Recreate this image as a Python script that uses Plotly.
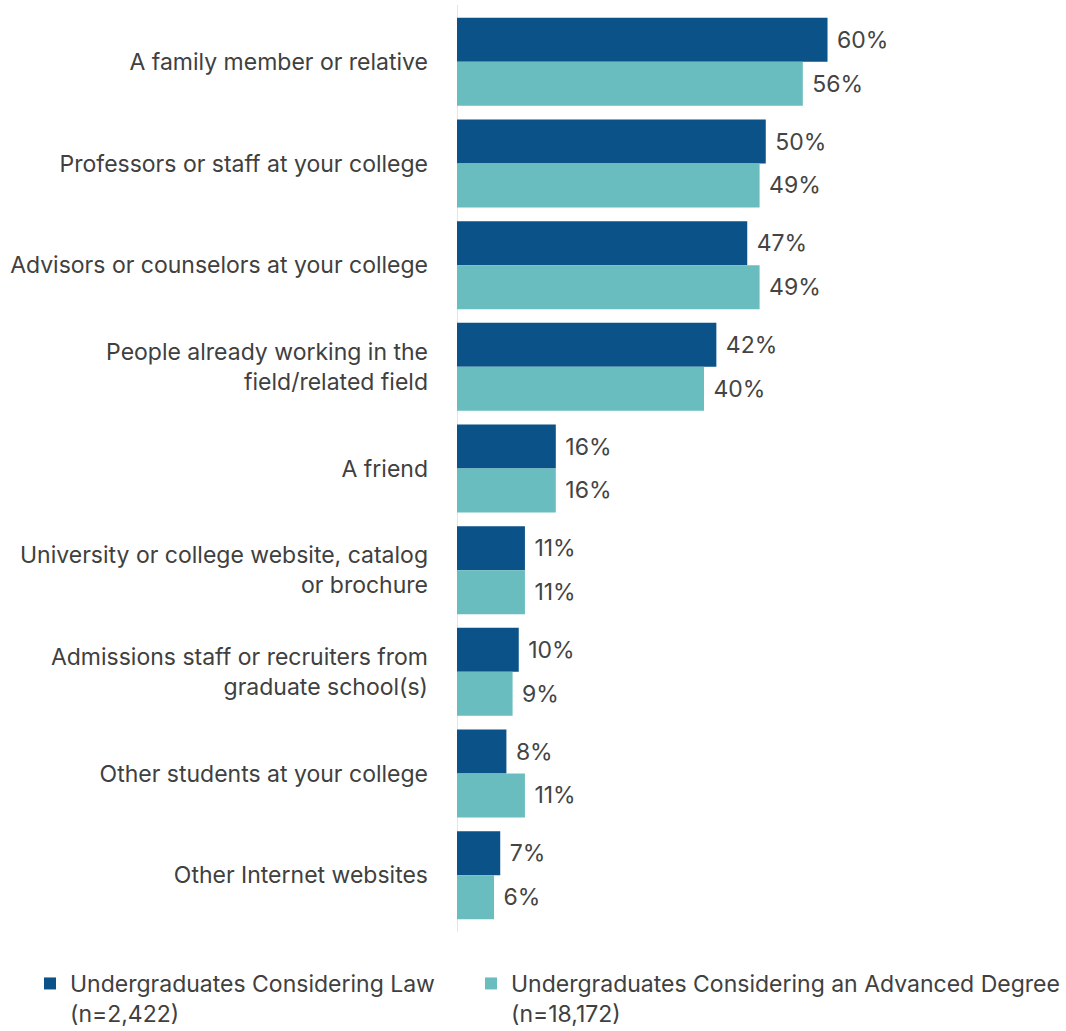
import plotly.graph_objects as go

categories = [
    "A family member or relative",
    "Professors or staff at your college",
    "Advisors or counselors at your college",
    "People already working in the<br>field/related field",
    "A friend",
    "University or college website, catalog<br>or brochure",
    "Admissions staff or recruiters from<br>graduate school(s)",
    "Other students at your college",
    "Other Internet websites",
]
law_values = [60, 50, 47, 42, 16, 11, 10, 8, 7]
advanced_values = [56, 49, 49, 40, 16, 11, 9, 11, 6]
series_names = [
    "Undergraduates Considering Law<br>(n=2,422)",
    "Undergraduates Considering an Advanced Degree<br>(n=18,172)",
]
colors = ["#0A5287", "#69BDBE"]
legend_ids = ["legend", "legend2"]
legend_left_px = [30, 471]

FONT = "Inter, Roboto, sans-serif"
TEXT_COLOR = "#404040"

W, H = 1066, 1031
M_L, M_R, M_T, M_B = 457, 10, 11, 105
PLOT_W = W - M_L - M_R
PLOT_H = H - M_T - M_B

fig = go.Figure()
for name, vals, col, lg in zip(series_names, [law_values, advanced_values], colors, legend_ids):
    fig.add_trace(go.Bar(
        y=categories,
        x=vals,
        name=name,
        orientation="h",
        marker=dict(color=col, line=dict(width=0)),
        texttemplate="\u00a0%{x}%",
        textposition="outside",
        textfont=dict(family=FONT, size=23, color="#444444"),
        cliponaxis=False,
        showlegend=True,
        legend=lg,
    ))


def legend_at(px_left):
    return dict(
        orientation="h",
        xref="paper", yref="paper",
        x=(px_left - M_L) / PLOT_W,
        y=(H - M_B - 962) / PLOT_H,
        xanchor="left", yanchor="top",
        valign="top",
        font=dict(family=FONT, size=23, color=TEXT_COLOR),
        itemwidth=30,
        bgcolor="rgba(0,0,0,0)",
        visible=True,
    )


# thin baseline at x = 0, running slightly past the bar area
fig.add_shape(type="line", xref="x", yref="paper", x0=0, x1=0, y0=-0.0066, y1=1.0066,
              line=dict(color="#cccccc", width=1), layer="below")

fig.update_layout(
    width=W,
    height=H,
    showlegend=True,
    barmode="group",
    bargap=0.135,
    bargroupgap=0,
    plot_bgcolor="white",
    paper_bgcolor="white",
    margin=dict(l=M_L, r=M_R, t=M_T, b=M_B, autoexpand=False),
    font=dict(family=FONT, size=23, color=TEXT_COLOR),
    xaxis=dict(range=[0, 97], showgrid=False, zeroline=False, showticklabels=False,
               showline=False, fixedrange=True),
    yaxis=dict(autorange="reversed", showgrid=False, zeroline=False, showline=False,
               ticks="", ticklabelstandoff=28,
               tickfont=dict(family=FONT, size=23, color=TEXT_COLOR)),
    legend=legend_at(legend_left_px[0]),
    legend2=legend_at(legend_left_px[1]),
)

fig.write_html("out.html")
